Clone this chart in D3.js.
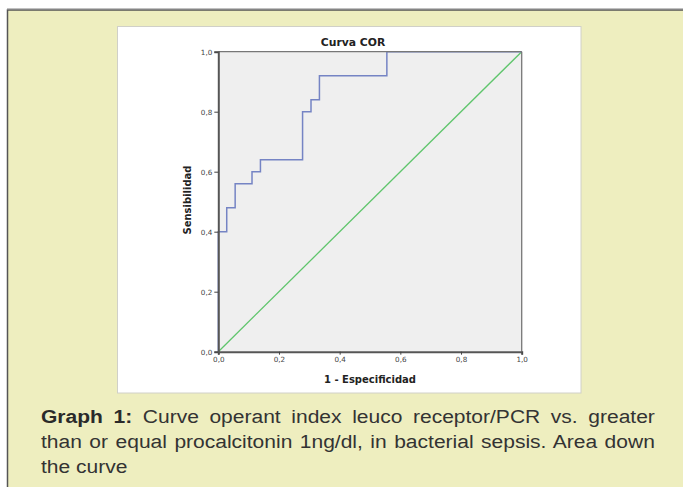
<!DOCTYPE html>
<html><head><meta charset="utf-8">
<script src="https://cdn.jsdelivr.net/npm/d3@7"></script>
<style>
html,body{margin:0;padding:0;background:#fff;}
#wrap{position:relative;width:683px;height:487px;overflow:hidden;}
#caption{position:absolute;left:41px;top:405px;width:526px;transform:scaleX(1.167);transform-origin:0 0;font-family:"Liberation Sans",Arial,sans-serif;font-size:18px;line-height:25px;color:#333;}
#caption div{text-align:justify;text-align-last:justify;white-space:nowrap;}
#caption div.last{text-align:left;text-align-last:left;}
#caption b{color:#2a2a2a;}
</style></head>
<body><div id="wrap"><svg id="chart" width="683" height="487"></svg>
<div id="caption"><div><b>Graph 1:</b> Curve operant index leuco receptor/PCR vs. greater</div><div>than or equal procalcitonin 1ng/dl, in bacterial sepsis. Area down</div><div class="last">the curve</div></div></div>
<script>
// ROC curve data (1 - specificity, sensitivity)
const rocFPR = [0, 0, 1/36, 1/36, 2/36, 2/36, 4/36, 4/36, 5/36, 5/36, 10/36, 10/36, 11/36, 11/36, 12/36, 12/36, 20/36, 20/36, 1];
const rocTPR = [0, 0.40, 0.40, 0.48, 0.48, 0.56, 0.56, 0.60, 0.60, 0.64, 0.64, 0.80, 0.80, 0.84, 0.84, 0.92, 0.92, 1.0, 1.0];
const refFPR = [0, 1];
const refTPR = [0, 1];
const tickValues = [0, 0.2, 0.4, 0.6, 0.8, 1.0];
const tickLabels = ["0,0", "0,2", "0,4", "0,6", "0,8", "1,0"];
const title = "Curva COR";
const xTitle = "1 - Especificidad";
const yTitle = "Sensibilidad";

const svg = d3.select("#chart");
svg.append("rect").attr("x", 0).attr("y", 0).attr("width", 683).attr("height", 487).attr("fill", "#fff");
svg.append("rect").attr("x", 7.5).attr("y", 10).attr("width", 690).attr("height", 490)
  .attr("fill", "#eeeebf").attr("stroke", "#555").attr("stroke-width", 1.5);
svg.append("line").attr("x1", 7).attr("x2", 683).attr("y1", 8.6).attr("y2", 8.6).attr("stroke", "#bbb").attr("stroke-width", 1);
svg.append("rect").attr("x", 117.5).attr("y", 26.5).attr("width", 463.5).attr("height", 366.5)
  .attr("fill", "#fff").attr("stroke", "#d0d0c8").attr("stroke-width", 1);

const x = d3.scaleLinear().domain([0, 1]).range([218.3, 521.7]);
const y = d3.scaleLinear().domain([0, 1]).range([351.7, 51.7]);

svg.append("rect").attr("x", x(0)).attr("y", y(1)).attr("width", x(1) - x(0)).attr("height", y(0) - y(1))
  .attr("fill", "#efefef");

const line = d3.line().x(d => x(d[0])).y(d => y(d[1]));
svg.append("path").datum(refFPR.map((v, i) => [v, refTPR[i]])).attr("d", line)
  .attr("fill", "none").attr("stroke", "#5fc56c").attr("stroke-width", 1.3);
svg.append("path").datum(rocFPR.map((v, i) => [v, rocTPR[i]])).attr("d", line)
  .attr("fill", "none").attr("stroke", "#7584c4").attr("stroke-width", 1.5);

svg.append("line").attr("x1", x(0)).attr("x2", x(1)).attr("y1", y(1)).attr("y2", y(1)).attr("stroke", "#777").attr("stroke-width", 1.3);
svg.append("line").attr("x1", x(1)).attr("x2", x(1)).attr("y1", y(1)).attr("y2", y(0)).attr("stroke", "#777").attr("stroke-width", 1.3);

const fmt = d => tickLabels[tickValues.indexOf(d)];
const xAxis = svg.append("g").attr("transform", `translate(0,${y(0)})`)
  .call(d3.axisBottom(x).tickValues(tickValues).tickFormat(fmt).tickSize(3).tickPadding(2));
const yAxis = svg.append("g").attr("transform", `translate(${x(0)},0)`)
  .call(d3.axisLeft(y).tickValues(tickValues).tickFormat(fmt).tickSize(4).tickPadding(2));
[xAxis, yAxis].forEach(g => {
  g.select(".domain").attr("stroke", "#555").attr("stroke-width", 2);
  g.selectAll(".tick line").attr("stroke", "#444").attr("stroke-width", 1);
  g.selectAll(".tick text").attr("fill", "#444").attr("font-family", "DejaVu Sans, sans-serif").attr("font-size", 7.2);
});

svg.append("text").attr("x", 353).attr("y", 46).attr("text-anchor", "middle")
  .attr("font-family", "DejaVu Sans, sans-serif").attr("font-weight", "bold").attr("font-size", 10.8).attr("fill", "#222").text(title);
svg.append("text").attr("x", 370).attr("y", 383).attr("text-anchor", "middle")
  .attr("font-family", "DejaVu Sans, sans-serif").attr("font-weight", "bold").attr("font-size", 10).attr("fill", "#222").text(xTitle);
svg.append("text").attr("transform", "translate(191,200) rotate(-90)").attr("text-anchor", "middle")
  .attr("font-family", "DejaVu Sans, sans-serif").attr("font-weight", "bold").attr("font-size", 10).attr("fill", "#222").text(yTitle);
</script></body></html>
